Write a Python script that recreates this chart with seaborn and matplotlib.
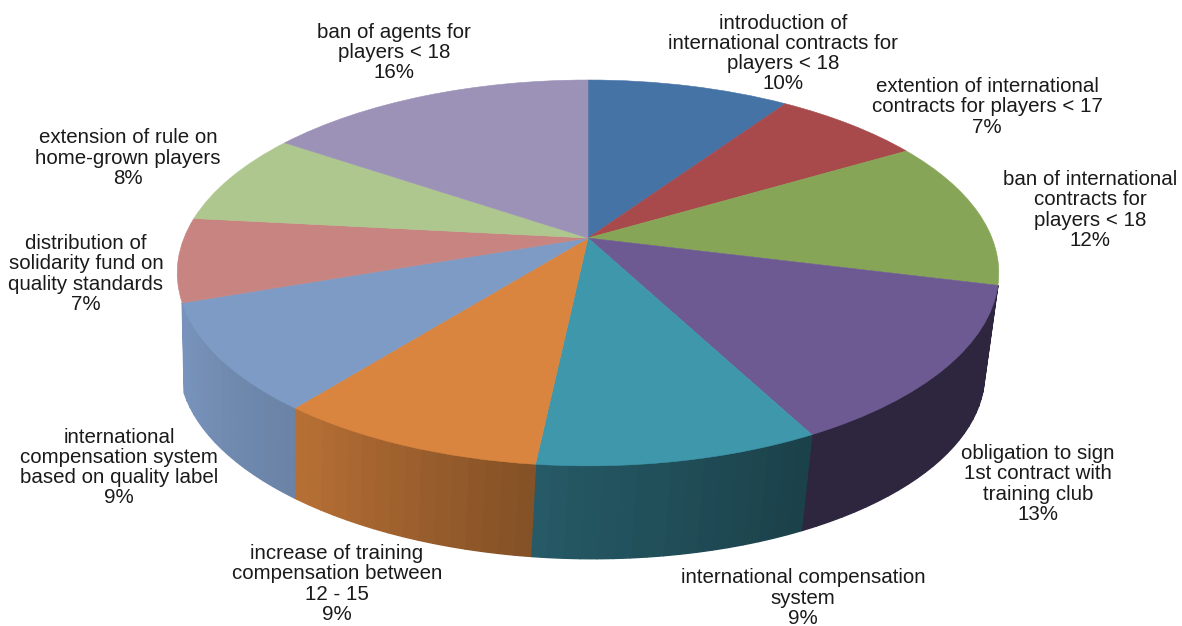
import numpy as np
import matplotlib
matplotlib.use("Agg")
import matplotlib.pyplot as plt
import matplotlib.transforms as mtransforms
import matplotlib.colors as mcolors
import seaborn as sns

labels = [
    "introduction of\ninternational contracts for\nplayers < 18",
    "extention of international\ncontracts for players < 17",
    "ban of international\ncontracts for\nplayers < 18",
    "obligation to sign\n1st contract with\ntraining club",
    "international compensation\nsystem",
    "increase of training\ncompensation between\n12 - 15",
    "international\ncompensation system\nbased on quality label",
    "distribution of\nsolidarity fund on\nquality standards",
    "extension of rule on\nhome-grown players",
    "ban of agents for\nplayers < 18",
]
# shares, they round to the printed percentages
shares = [9.5, 7.0, 12.4, 13.4, 9.4, 9.0, 9.0, 7.0, 7.8, 15.5]
percent_text = ["10%", "7%", "12%", "13%", "9%", "9%", "9%", "7%", "8%", "16%"]

colors = ["#4673a6", "#a84a4b", "#87a557", "#6d5a93", "#3f97ac",
          "#d9853f", "#7e9bc5", "#c78480", "#adc78e", "#9c92b8"]

label_x = [783, 987, 1090, 1038, 803, 337, 119, 86, 128, 394]
label_y = [53.5, 107, 210, 484, 598, 584, 467.5, 274, 158, 52.5]


class Tilt(mtransforms.Transform):
    # perspective view of the unit circle, result is in pixels
    input_dims = 2
    output_dims = 2

    def __init__(self, x0, y0, m, k, s=0.0, p=0.181):
        super().__init__()
        self.x0, self.y0, self.m, self.k, self.s, self.p = x0, y0, m, k, s, p

    def transform_non_affine(self, values):
        u, v = values[:, 0], values[:, 1]
        d = 1 + self.p * v
        return np.column_stack((self.x0 + self.m * u / d,
                                self.y0 + (self.s * u - self.k * v) / d))


sns.set_theme(style="white")
plt.rcParams["font.family"] = ["Liberation Sans", "DejaVu Sans"]

fig = plt.figure(figsize=(11.82, 6.26), dpi=100)
ax = fig.add_axes([0, 0, 1, 1])

top = Tilt(588, 238, 404, 186.6)
bottom = Tilt(582, 334, 396, 184, s=5)

# side wall, thin strips so the shading changes around the pie
edges = np.concatenate(([0], np.cumsum(shares))) * 3.6
for i, col in enumerate(colors):
    if edges[i] < 100 or edges[i] > 230:  # only the front of the wall shows
        continue
    steps = np.arange(edges[i], edges[i + 1], 2.0)
    steps = np.append(steps, edges[i + 1])
    for a, b in zip(steps[:-1], steps[1:]):
        t = np.radians(np.linspace(a, b, 4))
        rim = np.column_stack((np.sin(t), np.cos(t)))
        poly = np.vstack((top.transform(rim), bottom.transform(rim)[::-1]))
        shade = np.interp((a + b) / 2, [104, 151, 183, 216, 248, 280],
                          [0.42, 0.42, 0.58, 0.83, 0.95, 0.95])
        c = np.array(mcolors.to_rgb(col)) * shade
        ax.fill(poly[:, 0], poly[:, 1], color=c, lw=1.0)

wedges, _ = ax.pie(shares, colors=colors, startangle=90, counterclock=False,
                   wedgeprops={"linewidth": 0})
for w, col in zip(wedges, colors):
    w.set_edgecolor(col)
    w.set_linewidth(0.4)
    w.set_transform(top + ax.transData)

for name, pct, x, y in zip(labels, percent_text, label_x, label_y):
    ax.text(x, y, name + "\n" + pct, ha="center", va="center", ma="center",
            fontsize=14.8, linespacing=1.08, color="#1a1a1a")

ax.set_aspect("auto")
ax.set_xlim(0, 1182)
ax.set_ylim(626, 0)
ax.axis("off")

fig.savefig("out.png", dpi=100)
